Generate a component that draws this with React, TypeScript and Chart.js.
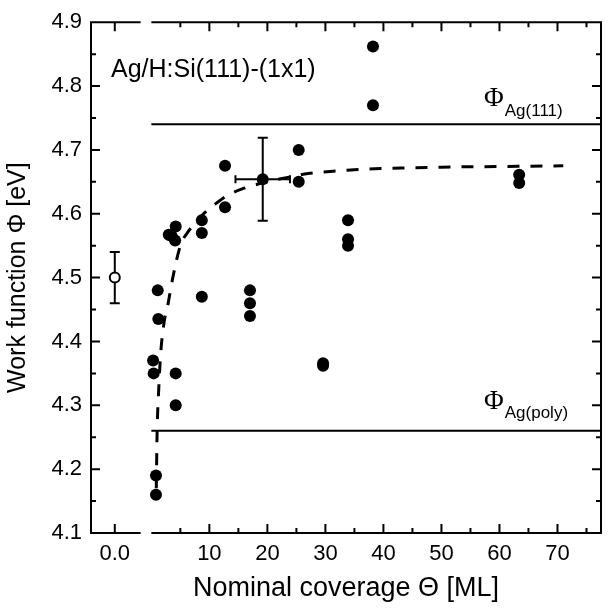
import { useEffect, useRef } from "react";
import { Chart, registerables } from "chart.js";

Chart.register(...registerables);

// ---- data ----
const coverage = [0.3, 0.4, 0.8, 0.8, 1.1, 1.2, 3.0, 3.5, 4.2, 4.1, 4.2, 4.2, 8.7, 8.7, 8.7, 12.7, 12.7, 17.0, 17.0, 17.0, 25.4, 25.4, 29.6, 29.6, 33.9, 33.9, 33.9, 38.2, 38.2, 63.4, 63.4];
const workFunction = [4.37, 4.35, 4.19, 4.16, 4.48, 4.435, 4.567, 4.565, 4.58, 4.558, 4.35, 4.30, 4.59, 4.57, 4.47, 4.675, 4.61, 4.48, 4.46, 4.44, 4.70, 4.65, 4.366, 4.362, 4.59, 4.56, 4.55, 4.862, 4.77, 4.661, 4.648];

const fitCoverage = [0.85, 1.0, 1.3, 1.6, 2.2, 2.9, 3.7, 5.0, 6.2, 7.5, 9.0, 11, 13, 16, 20, 23.5, 27, 32, 37, 41, 50, 60, 71];
const fitPhi = [4.17, 4.26, 4.33, 4.38, 4.43, 4.46, 4.5, 4.55, 4.57, 4.585, 4.6, 4.615, 4.628, 4.64, 4.65, 4.657, 4.663, 4.667, 4.67, 4.671, 4.673, 4.674, 4.675];

// mean value with error bars
const meanCoverage = [19.2];
const meanPhi = [4.654];
const meanCoverageErr = [4.7];
const meanPhiErr = [0.065];

// clean H:Si(111) reference (coverage 0)
const refCoverage = [0];
const refPhi = [4.5];
const refPhiErr = [0.04];

// Ag work function levels
const levelNames = ["Ag(111)", "Ag(poly)"];
const levelPhi = [4.74, 4.26];

// ticks
const yMajorTicks = [4.1, 4.2, 4.3, 4.4, 4.5, 4.6, 4.7, 4.8, 4.9];
const yMinorTicks = [4.15, 4.25, 4.35, 4.45, 4.55, 4.65, 4.75, 4.85];
const xMajorTicks = [10, 20, 30, 40, 50, 60, 70];
const xMinorTicks = [5, 15, 25, 35, 45, 55, 65, 75];
const zeroLabel = "0.0";

// ---- axis layout (broken x axis) ----
const X_MIN = -10.4;
const X_MAX = 77.5;
const ZERO_POS = -6.3; // axis position where coverage 0 is drawn on the left segment
const BREAK_FROM = -1.85;
const BREAK_TO = 0;

const toAxis = (theta: number) => (theta === 0 ? ZERO_POS : theta);

const SANS = '"Liberation Sans", Arial, Helvetica, sans-serif';
const SERIF = '"Liberation Serif", "Times New Roman", serif';

const errorBarPlugin = {
  id: "errorBars",
  beforeDatasetsDraw(chart: any) {
    const { ctx } = chart;
    const xs = chart.scales.x;
    const ys = chart.scales.y;
    ctx.save();
    ctx.strokeStyle = "#000";
    ctx.lineWidth = 2;
    const cap = 5;
    const drawY = (x: number, y: number, e: number) => {
      const px = xs.getPixelForValue(x);
      const p1 = ys.getPixelForValue(y - e);
      const p2 = ys.getPixelForValue(y + e);
      ctx.beginPath();
      ctx.moveTo(px, p1);
      ctx.lineTo(px, p2);
      ctx.moveTo(px - cap, p1);
      ctx.lineTo(px + cap, p1);
      ctx.moveTo(px - cap, p2);
      ctx.lineTo(px + cap, p2);
      ctx.stroke();
    };
    const drawX = (x: number, y: number, e: number) => {
      const py = ys.getPixelForValue(y);
      const p1 = xs.getPixelForValue(x - e);
      const p2 = xs.getPixelForValue(x + e);
      ctx.beginPath();
      ctx.moveTo(p1, py);
      ctx.lineTo(p2, py);
      ctx.moveTo(p1, py - 4);
      ctx.lineTo(p1, py + 4);
      ctx.moveTo(p2, py - 4);
      ctx.lineTo(p2, py + 4);
      ctx.stroke();
    };
    meanCoverage.forEach((c, i) => {
      drawY(toAxis(c), meanPhi[i], meanPhiErr[i]);
      drawX(toAxis(c), meanPhi[i], meanCoverageErr[i]);
    });
    refCoverage.forEach((c, i) => drawY(toAxis(c), refPhi[i], refPhiErr[i]));
    ctx.restore();
  },
};

const framePlugin = {
  id: "frame",
  afterDraw(chart: any) {
    const { ctx, chartArea } = chart;
    const { left, right, top, bottom } = chartArea;
    const xs = chart.scales.x;
    const ys = chart.scales.y;
    ctx.save();
    ctx.strokeStyle = "#000";
    ctx.lineWidth = 2;
    const gA = xs.getPixelForValue(BREAK_FROM);
    const gB = xs.getPixelForValue(BREAK_TO);
    ctx.beginPath();
    ctx.moveTo(left, top - 1);
    ctx.lineTo(left, bottom + 1);
    ctx.moveTo(right, top - 1);
    ctx.lineTo(right, bottom + 1);
    for (const yy of [top, bottom]) {
      ctx.moveTo(left - 1, yy);
      ctx.lineTo(gA, yy);
      ctx.moveTo(gB, yy);
      ctx.lineTo(right + 1, yy);
    }
    // x ticks
    const xT = (v: number, len: number) => {
      const px = xs.getPixelForValue(v);
      ctx.moveTo(px, bottom);
      ctx.lineTo(px, bottom - len);
      ctx.moveTo(px, top);
      ctx.lineTo(px, top + len);
    };
    xT(ZERO_POS, 9);
    xMajorTicks.forEach((v) => xT(v, 9));
    xMinorTicks.forEach((v) => xT(v, 5));
    const yT = (v: number, len: number) => {
      const py = ys.getPixelForValue(v);
      ctx.moveTo(left, py);
      ctx.lineTo(left + len, py);
      ctx.moveTo(right, py);
      ctx.lineTo(right - len, py);
    };
    yMajorTicks.forEach((v) => yT(v, 9));
    yMinorTicks.forEach((v) => yT(v, 5));
    ctx.stroke();

    // annotations
    ctx.fillStyle = "#000";
    ctx.textBaseline = "alphabetic";
    ctx.textAlign = "left";
    ctx.font = `25px ${SANS}`;
    ctx.fillText("Ag/H:Si(111)-(1x1)", left + 20, top + 55);

    const offsets = [
      { phi: 18, sub: 8 },
      { phi: 22, sub: 13 },
    ];
    levelPhi.forEach((v, i) => {
      const py = ys.getPixelForValue(v);
      const x0 = right - 117;
      ctx.font = `27px ${SERIF}`;
      ctx.fillText("Φ", x0, py - offsets[i].phi);
      const w = ctx.measureText("Φ").width;
      ctx.font = `17px ${SANS}`;
      ctx.fillText(levelNames[i], x0 + w + 1, py - offsets[i].sub);
    });
    ctx.restore();
  },
};

export default function App() {
  const ref = useRef<HTMLCanvasElement | null>(null);

  useEffect(() => {
    document.body.style.margin = "0";
    const canvas = ref.current;
    if (!canvas) return;
    Chart.defaults.font.family = SANS;
    Chart.defaults.color = "#000";

    const levelDatasets = levelPhi.map((v) => ({
      type: "line" as const,
      data: [
        { x: BREAK_TO, y: v },
        { x: X_MAX, y: v },
      ],
      borderColor: "#000",
      borderWidth: 2,
      pointRadius: 0,
      showLine: true,
      order: 5,
    }));

    const chart = new Chart(canvas, {
      type: "scatter",
      data: {
        datasets: [
          ...levelDatasets,
          {
            type: "line",
            data: fitCoverage.map((c, i) => ({ x: c, y: fitPhi[i] })),
            borderColor: "#000",
            borderWidth: 3,
            borderDash: [12, 11],
            pointRadius: 0,
            cubicInterpolationMode: "monotone",
            showLine: true,
            order: 4,
          },
          {
            data: coverage.map((c, i) => ({ x: toAxis(c), y: workFunction[i] })),
            backgroundColor: "#000",
            borderColor: "#000",
            borderWidth: 0,
            pointRadius: 6,
            order: 2,
          },
          {
            data: meanCoverage.map((c, i) => ({ x: toAxis(c), y: meanPhi[i] })),
            backgroundColor: "#000",
            borderColor: "#000",
            borderWidth: 0,
            pointRadius: 6,
            order: 1,
          },
          {
            data: refCoverage.map((c, i) => ({ x: toAxis(c), y: refPhi[i] })),
            backgroundColor: "#fff",
            borderColor: "#000",
            borderWidth: 2,
            pointRadius: 5,
            order: 0,
          },
        ] as any,
      },
      options: {
        animation: false,
        responsive: false,
        events: [],
        layout: { padding: { top: 21, right: 2, left: 0, bottom: 0 } },
        plugins: { legend: { display: false }, tooltip: { enabled: false } },
        scales: {
          x: {
            type: "linear",
            min: X_MIN,
            max: X_MAX,
            afterFit: (s: any) => {
              s.height = 81;
            },
            afterBuildTicks: (s: any) => {
              s.ticks = [{ value: ZERO_POS }, ...xMajorTicks.map((v) => ({ value: v }))];
            },
            grid: { display: false, drawTicks: false },
            border: { display: false },
            ticks: {
              autoSkip: false,
              maxRotation: 0,
              padding: 8,
              font: { size: 22, family: SANS },
              color: "#000",
              callback: (v: any) => (v === ZERO_POS ? zeroLabel : String(v)),
            },
            title: {
              display: true,
              text: "Nominal coverage Θ [ML]",
              font: { size: 27, family: SANS },
              color: "#000",
              padding: { top: 0, bottom: 9 },
            },
          },
          y: {
            type: "linear",
            min: 4.1,
            max: 4.9,
            afterFit: (s: any) => {
              s.width = 91;
            },
            afterBuildTicks: (s: any) => {
              s.ticks = yMajorTicks.map((v) => ({ value: v }));
            },
            grid: { display: false, drawTicks: false },
            border: { display: false },
            ticks: {
              padding: 9,
              font: { size: 22, family: SANS },
              color: "#000",
              callback: (v: any) => Number(v).toFixed(1),
            },
            title: {
              display: true,
              text: "Work function Φ [eV]",
              font: { size: 25, family: SANS },
              color: "#000",
              padding: { top: 3, bottom: 0 },
            },
          },
        },
      },
      plugins: [errorBarPlugin, framePlugin],
    });
    return () => chart.destroy();
  }, []);

  return (
    <div style={{ width: 608, height: 614 }}>
      <canvas ref={ref} width={608} height={614} style={{ display: "block" }} />
    </div>
  );
}
